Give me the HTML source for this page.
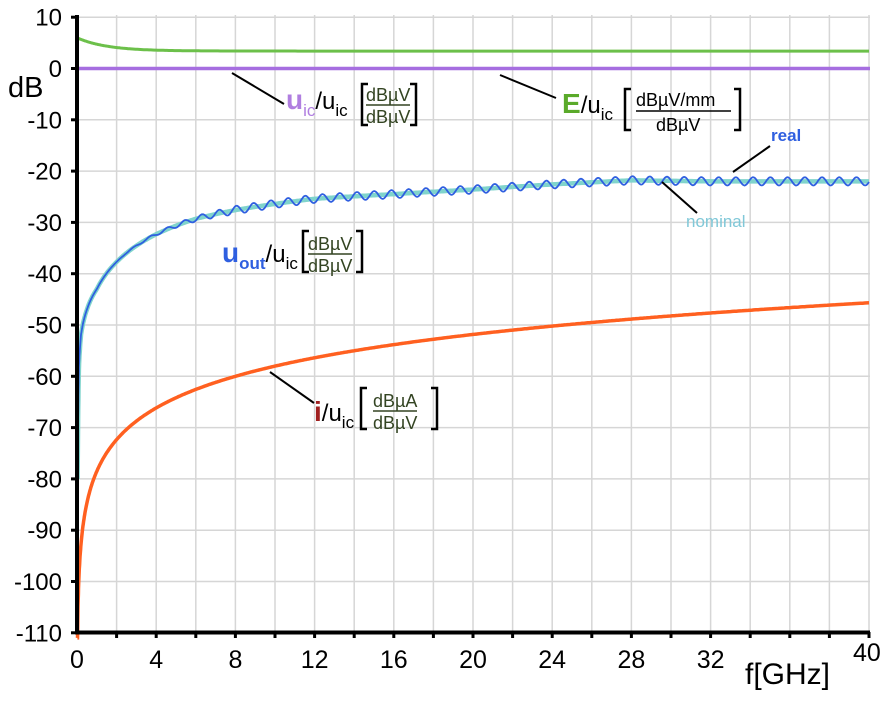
<!DOCTYPE html>
<html><head><meta charset="utf-8"><style>
body{margin:0;background:#fff;width:886px;height:698px;overflow:hidden}
svg{font-family:"Liberation Sans",Arial,sans-serif}
</style></head><body>
<svg id="s" width="886" height="698" xmlns="http://www.w3.org/2000/svg">
<g id="grid" stroke="#d6d6d6" stroke-width="1.5"></g>
<g id="curves"></g>
<g stroke="#000" stroke-width="4" fill="none">
<line x1="77" y1="15" x2="77" y2="634"/>
<line x1="75" y1="632.5" x2="870" y2="632.5"/>
</g>
<g id="ticks" stroke="#000" stroke-width="3"></g>
<g id="lbl" font-size="24" fill="#000"></g>
<text x="8" y="97" font-size="29">dB</text>
<text x="745" y="684" font-size="30">f[GHz]</text>
<text x="853" y="661" font-size="25">40</text>
<g stroke="#000" stroke-width="2">
<line x1="232" y1="73" x2="284" y2="104"/>
<line x1="500" y1="75" x2="556" y2="98"/>
<line x1="733" y1="172" x2="770" y2="146"/>
<line x1="662" y1="182" x2="697" y2="213"/>
<line x1="270" y1="372" x2="314" y2="403"/>
</g>
<g font-size="24" fill="#000">
<text x="286" y="109"><tspan fill="#b07ee0" font-weight="bold" font-size="28">u</tspan><tspan fill="#b07ee0" font-size="17" dy="7">ic</tspan><tspan dy="-7">/u</tspan><tspan font-size="17" dy="7">ic</tspan></text>
<path d="M368 84 H362 V125 H368 M410 84 H416 V125 H410" stroke="#000" stroke-width="2.5" fill="none"/>
<text x="366" y="101" font-size="18" fill="#334422">dBµV</text>
<line x1="366" y1="105" x2="410" y2="105" stroke="#334422" stroke-width="1.5"/>
<text x="366" y="123" font-size="18" fill="#334422">dBµV</text>

<text x="562" y="113"><tspan fill="#5aaa2a" font-weight="bold" font-size="28">E</tspan><tspan>/u</tspan><tspan font-size="17" dy="7">ic</tspan></text>
<path d="M631 89 H625 V130 H631 M734 89 H740 V130 H734" stroke="#000" stroke-width="2.5" fill="none"/>
<text x="636" y="106" font-size="18">dBµV/mm</text>
<line x1="636" y1="111" x2="731" y2="111" stroke="#000" stroke-width="1.5"/>
<text x="656" y="131" font-size="18">dBµV</text>

<text x="222" y="262"><tspan fill="#2f5fe0" font-weight="bold" font-size="28">u</tspan><tspan fill="#2f5fe0" font-weight="bold" font-size="17" dy="7">out</tspan><tspan dy="-7">/u</tspan><tspan font-size="17" dy="7">ic</tspan></text>
<path d="M309 231 H303 V272 H309 M356 231 H362 V272 H356" stroke="#000" stroke-width="2.5" fill="none"/>
<text x="308" y="250" font-size="18" fill="#334422">dBµV</text>
<line x1="308" y1="254" x2="352" y2="254" stroke="#334422" stroke-width="1.5"/>
<text x="308" y="272" font-size="18" fill="#334422">dBµV</text>

<text x="314" y="421"><tspan fill="#a02020" font-weight="bold" font-size="28">i</tspan><tspan>/u</tspan><tspan font-size="17" dy="7">ic</tspan></text>
<path d="M367 388 H361 V429 H367 M431 388 H437 V429 H431" stroke="#000" stroke-width="2.5" fill="none"/>
<text x="373" y="407" font-size="18" fill="#334422">dBµA</text>
<line x1="373" y1="411" x2="417" y2="411" stroke="#334422" stroke-width="1.5"/>
<text x="373" y="429" font-size="18" fill="#334422">dBµV</text>

<text x="771" y="141" font-size="17" fill="#2f5fe0" font-weight="bold">real</text>
<text x="686" y="227" font-size="17" fill="#80c8d8">nominal</text>
</g>
</svg>
<script>
const X=f=>77+19.8*f, Y=d=>68.5-5.13*d;
const ns="http://www.w3.org/2000/svg";
function el(p,t,a){const e=document.createElementNS(ns,t);for(const k in a)e.setAttribute(k,a[k]);p.appendChild(e);return e;}
const g=document.getElementById('grid'),tk=document.getElementById('ticks'),lb=document.getElementById('lbl');
for(let f=2;f<=40;f+=2){el(g,'line',{x1:X(f),y1:15,x2:X(f),y2:632});el(tk,'line',{x1:X(f),y1:632,x2:X(f),y2:638});}
for(let d=10;d>=-110;d-=10){el(g,'line',{x1:77,y1:Y(d),x2:870,y2:Y(d)});el(tk,'line',{x1:71,y1:Y(d),x2:77,y2:Y(d)});
 const t=el(lb,'text',{x:62,y:Y(d)+8.5,'text-anchor':'end'});t.textContent=d;}
for(let f=0;f<=32;f+=4){const t=el(lb,'text',{x:X(f),y:668,'text-anchor':'middle','font-size':25});t.textContent=f;}
const c=document.getElementById('curves');
function path(fn,a,b,n){let s='';for(let i=0;i<=n;i++){const f=a+(b-a)*Math.pow(i/n,1.6);s+=(i?'L':'M')+X(f).toFixed(1)+' '+Y(fn(f)).toFixed(1);}return s;}
const T=[[0.03,-80],[0.1,-58],[0.2,-52],[0.5,-47],[1,-43],[2,-37.7],[4,-32.3],[6,-29.3],[8,-27.6],[10,-26.4],[12,-25.4],[16,-24.5],[20,-23.6],[24,-22.6],[28,-21.8],[32,-22],[36,-22],[40,-22]];
function nom(f){for(let i=1;i<T.length;i++){if(f<=T[i][0]){const a=T[i-1],b=T[i];const t=(Math.log(f)-Math.log(a[0]))/(Math.log(b[0])-Math.log(a[0]));return a[1]+(b[1]-a[1])*t;}}return -22;}
el(c,'path',{d:path(f=>3.4+2.6*Math.exp(-f/1.5),0,40,300),stroke:'#6cc04a','stroke-width':3,fill:'none'});
el(c,'line',{x1:77,y1:Y(0),x2:870,y2:Y(0),stroke:'#a66ee0','stroke-width':3.5});
el(c,'path',{d:path(nom,0.03,40,600),stroke:'#80d4cc','stroke-width':4.5,fill:'none'});
el(c,'path',{d:path(f=>nom(f)+0.8*Math.min(1,Math.max(0,(f-2)/6))*Math.sin(f*2*Math.PI/0.87),0.03,40,1500),stroke:'#2f5fe0','stroke-width':1.8,fill:'none'});
el(c,'path',{d:path(f=>Math.max(-60+20.5*Math.log10(f/8),-111),0.02,40,600),stroke:'#ff6020','stroke-width':3.5,fill:'none'});
</script>
</body></html>
